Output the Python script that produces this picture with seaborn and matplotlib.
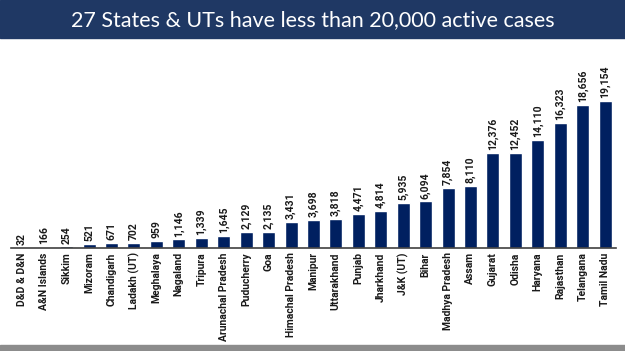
import seaborn as sns
import matplotlib.pyplot as plt
from matplotlib.patches import Rectangle

states = ['D&D & D&N', 'A&N Islands', 'Sikkim', 'Mizoram', 'Chandigarh', 'Ladakh (UT)',
          'Meghalaya', 'Nagaland', 'Tripura', 'Arunachal Pradesh', 'Puducherry', 'Goa',
          'Himachal Pradesh', 'Manipur', 'Uttarakhand', 'Punjab', 'Jharkhand', 'J&K (UT)',
          'Bihar', 'Madhya Pradesh', 'Assam', 'Gujarat', 'Odisha', 'Haryana', 'Rajasthan',
          'Telangana', 'Tamil Nadu']
active = [32, 166, 254, 521, 671, 702, 959, 1146, 1339, 1645, 2129, 2135, 3431, 3698,
          3818, 4471, 4814, 5935, 6094, 7854, 8110, 12376, 12452, 14110, 16323, 18656, 19154]

title = '27 States & UTs have less than 20,000 active cases'

sns.set_style('white')
plt.rcParams['font.family'] = ['Roboto', 'DejaVu Sans']

fig = plt.figure(figsize=(6.25, 3.51), dpi=100)

# title band + bottom strip
fig.patches.append(Rectangle((0, 0.892), 1, 0.108, transform=fig.transFigure,
                             color='#1f3864', zorder=0))
fig.patches.append(Rectangle((0, 0), 1, 0.017, transform=fig.transFigure,
                             color='#8c8c8c', zorder=0))
fig.text(0.5, 0.944, title, color='white', ha='center', va='center',
         fontsize=15.5, family=['Lato', 'DejaVu Sans'])

ax = fig.add_axes([0.017, 0.293, 0.969, 0.593])
sns.barplot(x=states, y=active, color='#002060', saturation=1, width=0.58, ax=ax)
ax.set_ylim(0, 27100)
ax.set_xlim(-0.5, len(states) - 0.5)

for i, v in enumerate(active):
    ax.text(i, v + 350, f'{v:,}', rotation=90, ha='center', va='bottom',
            fontsize=7.5, fontweight='bold', color='#1a1a1a')

ax.set_yticks([])
ax.tick_params(axis='x', length=0, pad=3)
ax.set_xticks(range(len(states)))
ax.set_xticklabels(states, rotation=90, fontsize=7.5, fontweight='bold', color='#1a1a1a')
for s in ['top', 'right', 'left']:
    ax.spines[s].set_visible(False)
ax.spines['bottom'].set_color('#404040')
ax.spines['bottom'].set_linewidth(1.2)

fig.savefig('out.png', dpi=100)
